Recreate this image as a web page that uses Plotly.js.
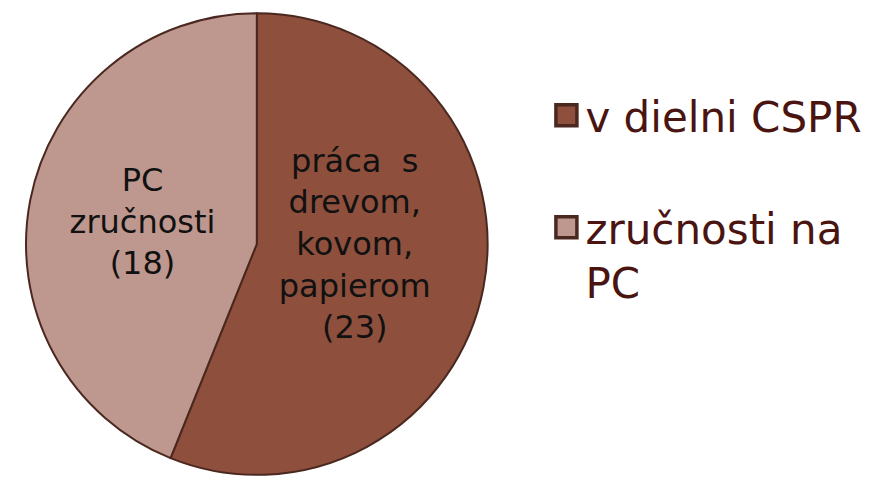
<!DOCTYPE html>
<html><head><meta charset="utf-8">
<script src="https://cdn.plot.ly/plotly-3.0.1.min.js"></script>
<style>body{margin:0;background:#fff}#c{width:872px;height:490px}</style>
</head><body><div id="c"></div>
<script>
const categories = ["v dielni CSPR", "zručnosti na<br>PC"];
const values = [23, 18];
const sliceLabels = ["práca  s<br>drevom,<br>kovom,<br>papierom", "PC<br>zručnosti"];
const colors = ["#8E4F3C", "#BE978E"];

// blank line after each legend entry except the last, for spacing between entries
const legendLabels = categories.map((c, i) => i < categories.length - 1 ? c + "<br> " : c);

Plotly.newPlot("c", [{
  type: "pie",
  labels: legendLabels,
  values: values,
  text: sliceLabels,
  texttemplate: "%{text}<br>(%{value})",
  textposition: "inside",
  insidetextorientation: "horizontal",
  sort: false,
  direction: "clockwise",
  rotation: 0,
  marker: {colors: colors, line: {color: "#4a2820", width: 2}},
  textfont: {family: "DejaVu Sans", size: 32, color: "#111"},
  domain: {x: [0.025, 0.564], y: [0.031, 0.973]},
  hoverinfo: "none"
}], {
  width: 872, height: 490,
  margin: {l: 0, r: 0, t: 0, b: 0},
  paper_bgcolor: "#fff",
  showlegend: true,
  legend: {x: 0.614, y: 0.834, xanchor: "left", yanchor: "top", valign: "top",
           font: {family: "DejaVu Sans", size: 42, color: "#4A1410"},
           itemwidth: 40}
}, {staticPlot: true}).then(() => {
  document.querySelectorAll("#c .legendpoints path").forEach(p => {
    const t = p.getAttribute("transform") || "";
    p.setAttribute("transform", t + " translate(6,0) scale(1.75)");
  });
});
</script></body></html>
